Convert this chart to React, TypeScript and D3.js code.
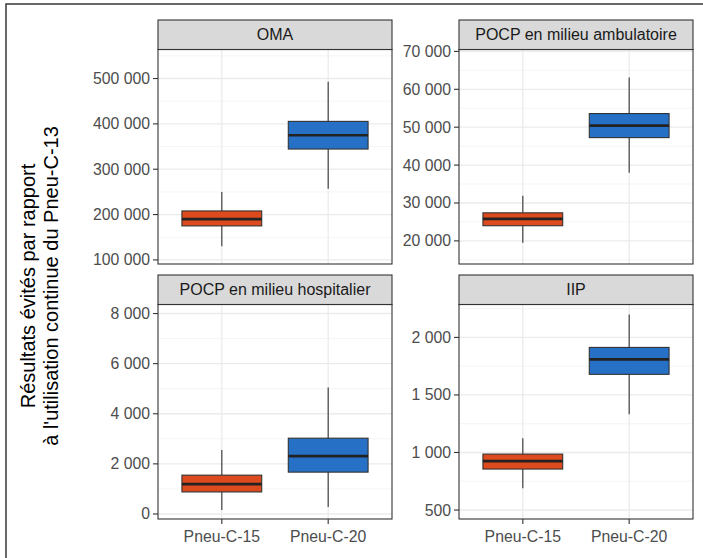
import * as d3 from 'd3';
import React from 'react';

// categories / facets
const groups = ['Pneu-C-15', 'Pneu-C-20'];
const facets = ['OMA', 'POCP en milieu ambulatoire', 'POCP en milieu hospitalier', 'IIP'];

// box stats per facet: [low whisker, q1, median, q3, high whisker], one row per group
const omaStats = [
  [130000, 175000, 190000, 208000, 250000],
  [257000, 344500, 375000, 405500, 493000],
];
const ambStats = [
  [19500, 24000, 25800, 27400, 31900],
  [38000, 47250, 50400, 53600, 63100],
];
const hospStats = [
  [160, 880, 1190, 1550, 2550],
  [280, 1670, 2310, 3025, 5050],
];
const iipStats = [
  [690, 856, 925, 986, 1124],
  [1332, 1679, 1809, 1913, 2199],
];
const allStats = [omaStats, ambStats, hospStats, iipStats];

// y axis limits and tick labels per facet
const yLimits = [
  [91000, 564000],
  [13900, 70500],
  [-200, 8360],
  [422, 2286],
];
const yTicks = [
  [100000, 200000, 300000, 400000, 500000],
  [20000, 30000, 40000, 50000, 60000, 70000],
  [0, 2000, 4000, 6000, 8000],
  [500, 1000, 1500, 2000],
];

const fillColors = ['#DC4A1D', '#2670C5'];

const titleLines = ['Résultats évités par rapport', "à l'utilisation continue du Pneu-C-13"];

const FONT = "'Liberation Sans', Arial, Helvetica, sans-serif";

const fr = d3.formatLocale({ decimal: ',', thousands: ' ', grouping: [3], currency: ['', ''] });
const fmt = fr.format(',d');

const colLeft = [158, 459];
const panelW = 234;
const rowTop = [20, 275];
const stripH = 29.5;
const plotH = 214.5;

function Panel({ idx }: { idx: number }) {
  const col = idx % 2;
  const row = Math.floor(idx / 2);
  const x0 = colLeft[col];
  const sTop = rowTop[row];
  const pTop = sTop + stripH;
  const pBot = pTop + plotH;

  const x = d3.scalePoint<string>().domain(groups).range([x0, x0 + panelW]).padding(0.6);
  const y = d3.scaleLinear().domain(yLimits[idx]).range([pBot, pTop]);
  const step = x.step();
  const boxW = step * 0.75;

  const ticks = yTicks[idx];
  const d = ticks[1] - ticks[0];
  const minor: number[] = [];
  for (let i = -1; i < ticks.length; i++) {
    const m = ticks[0] + d * i + d / 2;
    const [lo, hi] = yLimits[idx];
    if (m >= lo && m <= hi) minor.push(m);
  }

  const stats = allStats[idx];

  return (
    <g>
      {/* plot background */}
      <rect x={x0} y={pTop} width={panelW} height={plotH} fill="#fff" />
      {/* minor grid */}
      {minor.map((m) => (
        <line key={'mn' + m} x1={x0} x2={x0 + panelW} y1={y(m)} y2={y(m)} stroke="#F3F3F3" strokeWidth={0.8} />
      ))}
      {/* major grid */}
      {ticks.map((t) => (
        <line key={'mj' + t} x1={x0} x2={x0 + panelW} y1={y(t)} y2={y(t)} stroke="#EBEBEB" strokeWidth={1.3} />
      ))}
      {groups.map((g) => (
        <line key={'vx' + g} x1={x(g)} x2={x(g)} y1={pTop} y2={pBot} stroke="#EBEBEB" strokeWidth={1.3} />
      ))}
      {/* boxes */}
      {stats.map((s, i) => {
        const cx = x(groups[i]) as number;
        return (
          <g key={'b' + i}>
            <line x1={cx} x2={cx} y1={y(s[4])} y2={y(s[0])} stroke="#333" strokeWidth={1.1} />
            <rect x={cx - boxW / 2} y={y(s[3])} width={boxW} height={y(s[1]) - y(s[3])}
              fill={fillColors[i]} stroke="#333" strokeWidth={1.1} />
            <line x1={cx - boxW / 2} x2={cx + boxW / 2} y1={y(s[2])} y2={y(s[2])} stroke="#222" strokeWidth={2.6} />
          </g>
        );
      })}
      {/* panel border */}
      <rect x={x0} y={pTop} width={panelW} height={plotH} fill="none" stroke="#333" strokeWidth={1.1} />
      {/* strip */}
      <rect x={x0} y={sTop} width={panelW} height={stripH} fill="#D9D9D9" stroke="#333" strokeWidth={1.1} />
      <text x={x0 + panelW / 2} y={sTop + stripH / 2 + 5.6} textAnchor="middle" fontSize={16}
        fill="#1A1A1A" fontFamily={FONT}>{facets[idx]}</text>
      {/* y axis */}
      {ticks.map((t) => (
        <g key={'yt' + t}>
          <line x1={x0 - 5} x2={x0} y1={y(t)} y2={y(t)} stroke="#333" strokeWidth={1.1} />
          <text x={x0 - 8} y={y(t) + 5.5} textAnchor="end" fontSize={15.8} fill="#4D4D4D" fontFamily={FONT}>
            {fmt(t)}
          </text>
        </g>
      ))}
      {/* x axis (bottom row only) */}
      {row === 1 && groups.map((g) => (
        <g key={'xt' + g}>
          <line x1={x(g)} x2={x(g)} y1={pBot} y2={pBot + 5} stroke="#333" strokeWidth={1.1} />
          <text x={x(g)} y={pBot + 23} textAnchor="middle" fontSize={15.8} fill="#4D4D4D" fontFamily={FONT}>{g}</text>
        </g>
      ))}
    </g>
  );
}

export default function App() {
  return (
    <svg width={703} height={558} style={{ position: 'absolute', left: 0, top: 0, background: '#fff' }}>
      <rect x={0} y={0} width={703} height={558} fill="#fff" />
      <rect x={6} y={4} width={900} height={900} fill="none" stroke="#444" strokeWidth={1.6} />
      {facets.map((f, i) => <Panel key={f} idx={i} />)}
      <g transform="translate(35, 286) rotate(-90)">
        {titleLines.map((t, i) => (
          <text key={t} x={0} y={i * 22.5} textAnchor="middle" fontSize={20} fill="#000" fontFamily={FONT}>{t}</text>
        ))}
      </g>
    </svg>
  );
}
